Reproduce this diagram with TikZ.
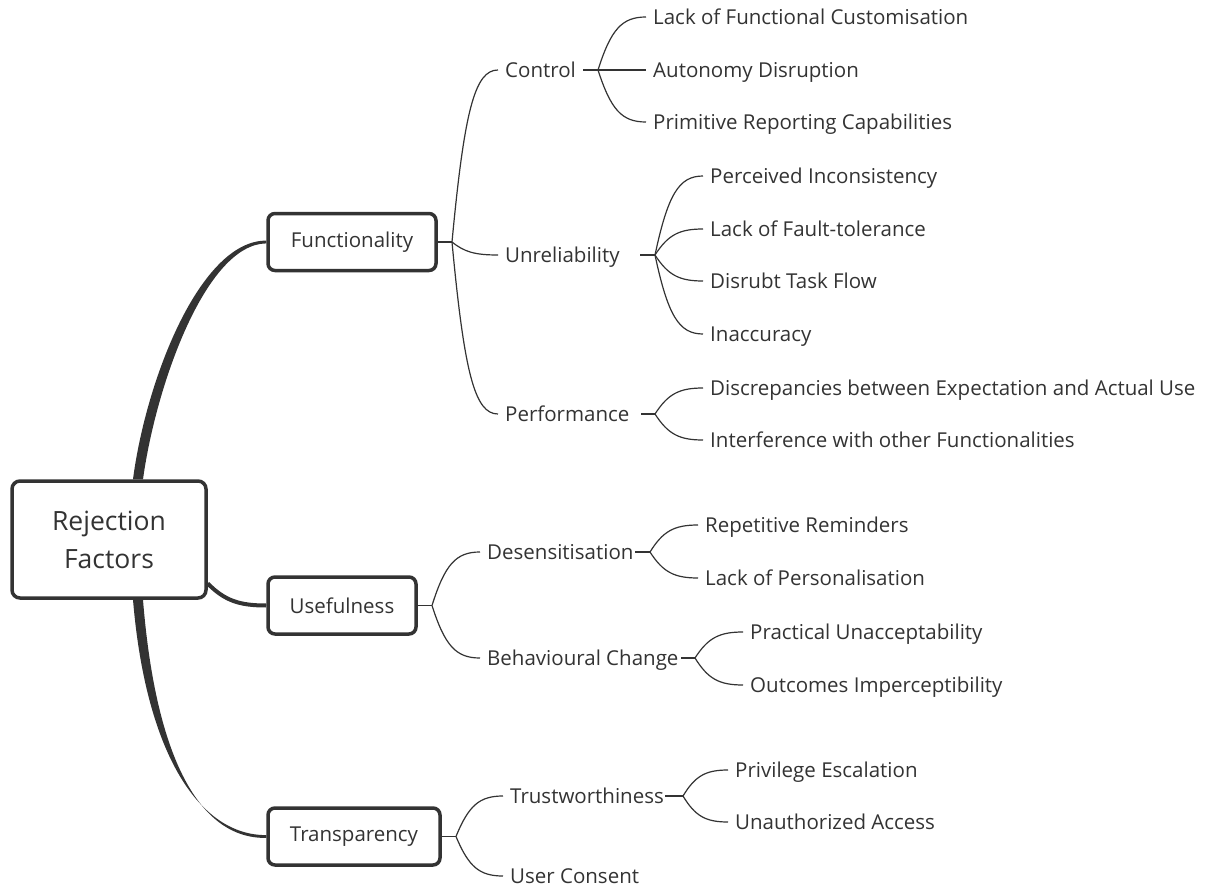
\documentclass[tikz,border=0pt]{standalone}
\usepackage{fontspec}
\setmainfont{Open Sans}
\usetikzlibrary{calc}
\definecolor{ink}{HTML}{333333}
\newcommand\mmlink[2]{\draw[lnk] let \p1=(#1), \p2=(#2) in (\p1) .. controls ({\x1+0.27*(\x2-\x1)},{\y1+0.77*(\y2-\y1)}) and ({\x2-0.5*(\x2-\x1)},\y2) .. (\p2);}
\tikzset{
  lnk/.style={draw=ink, line width=1.2pt},
  lbl/.style={anchor=west, inner xsep=7pt, inner ysep=0pt, text height=19pt, text depth=4pt, text=ink, font=\fontsize{20.5}{24}\selectfont},
  catbox/.style={draw=ink, line width=3.5pt, rounded corners=7pt, minimum height=57pt, inner sep=0pt, text=ink, font=\fontsize{20.5}{24}\selectfont},
  rootbox/.style={draw=ink, line width=3.5pt, rounded corners=8pt, minimum width=194pt, minimum height=117pt, inner sep=0pt, align=center, text=ink, font=\fontsize{26.5}{38}\selectfont},
}
\begin{document}
\begin{tikzpicture}[x=1pt,y=-1pt]
\useasboundingbox (0,0) rectangle (1205,888);
% root and categories
\node[rootbox] (root) at (109,539.5) {Rejection\\Factors};
\node[catbox, minimum width=168pt] (func) at (352,242) {Functionality};
\node[catbox, minimum width=148pt] (use) at (342,605.5) {Usefulness};
\node[catbox, minimum width=172pt] (trans) at (354,836.5) {Transparency};
% thick root branches
\fill[ink] ($(root.north)+(24,0)$) .. controls (146,380) and (200,240.5) .. ($(func.west)+(0,-1.4)$)
  -- ($(func.west)+(0,1.4)$) .. controls (206,244) and (156,385) .. ($(root.north)+(34,0)$) -- cycle;
\fill[ink] ($(root.south)+(24,0)$) .. controls (146,755) and (200,835.5) .. ($(trans.west)+(0,-1.4)$)
  -- ($(trans.west)+(0,1.4)$) .. controls (196,839) and (155,750) .. ($(root.south)+(34,0)$) -- cycle;
\draw[ink, line width=4pt] ($(root.east)+(0,44)$) .. controls (225,601) and (240,605.5) .. (use.west);
% level 2 nodes
\node[lbl] (ctl) at (498,70) {Control};
\node[lbl] (unr) at (498,255) {Unreliability};
\node[lbl] (perf) at (498,414) {Performance};
\node[lbl] (des) at (480,552) {Desensitisation};
\node[lbl] (beh) at (480,658) {Behavioural Change};
\node[lbl] (trw) at (503,796) {Trustworthiness};
\node[lbl] (uc) at (503,876) {User Consent};
% leaves
\node[lbl] (c1) at (646,17) {Lack of Functional Customisation};
\node[lbl] (c2) at (646,70) {Autonomy Disruption};
\node[lbl] (c3) at (646,122) {Primitive Reporting Capabilities};
\node[lbl] (u1) at (703,176) {Perceived Inconsistency};
\node[lbl] (u2) at (703,229) {Lack of Fault-tolerance};
\node[lbl] (u3) at (703,281) {Disrubt Task Flow};
\node[lbl] (u4) at (703,334) {Inaccuracy};
\node[lbl] (p1) at (703,388) {Discrepancies between Expectation and Actual Use};
\node[lbl] (p2) at (703,440) {Interference with other Functionalities};
\node[lbl] (d1) at (698,525) {Repetitive Reminders};
\node[lbl] (d2) at (698,578) {Lack of Personalisation};
\node[lbl] (b1) at (743,632) {Practical Unacceptability};
\node[lbl] (b2) at (743,685) {Outcomes Imperceptibility};
\node[lbl] (t1) at (728,770) {Privilege Escalation};
\node[lbl] (t2) at (728,822) {Unauthorized Access};
% junctions
\coordinate (jF) at (452,242);
\coordinate (jU) at (432,605.5);
\coordinate (jT) at (456,836.5);
\coordinate (sC) at (583,70);   \coordinate (jC) at (598,70);
\coordinate (sU) at (640,255);  \coordinate (jUr) at (655,255);
\coordinate (sP) at (641,414);  \coordinate (jP) at (655,414);
\coordinate (sD) at (635,552);  \coordinate (jD) at (650,552);
\coordinate (sB) at (681,658);  \coordinate (jB) at (695,658);
\coordinate (sT) at (665,796);  \coordinate (jTr) at (683,796);
% category stems
\draw[lnk] (func.east) -- (jF);
\draw[lnk] (use.east) -- (jU);
\draw[lnk] (trans.east) -- (jT);
\mmlink{jF}{ctl.west}
\mmlink{jF}{unr.west}
\mmlink{jF}{perf.west}
\mmlink{jU}{des.west}
\mmlink{jU}{beh.west}
\mmlink{jT}{trw.west}
\mmlink{jT}{uc.west}
% level 2 stems
\draw[lnk] (sC) -- (jC);
\draw[lnk, line width=1.8pt] (sU) -- (jUr);
\draw[lnk] (sP) -- (jP);
\draw[lnk] (sD) -- (jD);
\draw[lnk] (sB) -- (jB);
\draw[lnk] (sT) -- (jTr);
\mmlink{jC}{c1.west}
\draw[lnk] (jC) -- (c2.west);
\mmlink{jC}{c3.west}
\mmlink{jUr}{u1.west}
\mmlink{jUr}{u2.west}
\mmlink{jUr}{u3.west}
\mmlink{jUr}{u4.west}
\mmlink{jP}{p1.west}
\mmlink{jP}{p2.west}
\mmlink{jD}{d1.west}
\mmlink{jD}{d2.west}
\mmlink{jB}{b1.west}
\mmlink{jB}{b2.west}
\mmlink{jTr}{t1.west}
\mmlink{jTr}{t2.west}
\end{tikzpicture}
\end{document}
